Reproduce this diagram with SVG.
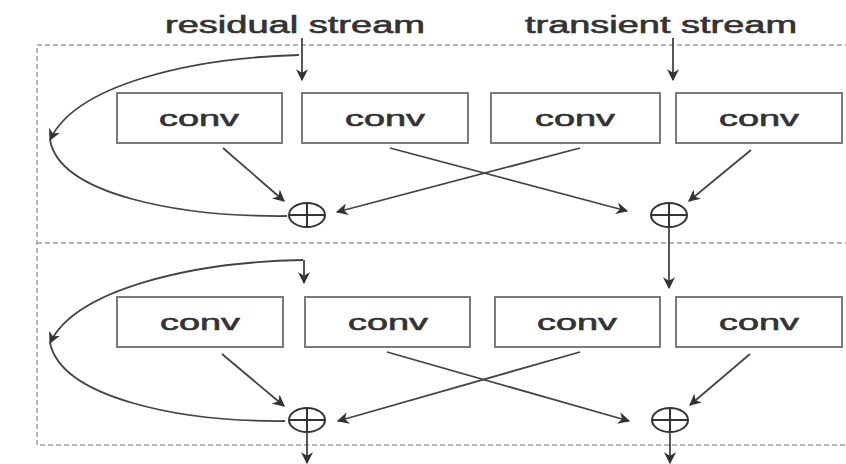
<svg xmlns="http://www.w3.org/2000/svg" width="846" height="464" viewBox="0 0 846 464">
<defs>
<marker id="ah" viewBox="0 0 10 10" refX="9" refY="5" markerWidth="12" markerHeight="12" orient="auto" markerUnits="userSpaceOnUse">
<path d="M0,0 L10,5 L0,10 L3,5 Z" fill="#333"/>
</marker>
<style>
.box{fill:#fff;stroke:#7a7a7a;stroke-width:2}
.lbl{font-family:"Liberation Sans",Arial,sans-serif;fill:#333;stroke:#333;stroke-width:0.6}
.conv{font-size:22px}
.title{font-size:23px}
.ln{fill:none;stroke:#444;stroke-width:1.8}
.dash{fill:none;stroke:#a0a0a0;stroke-width:1.5;stroke-dasharray:5,3}
.plus{fill:none;stroke:#333;stroke-width:2}
</style>
</defs>
<rect width="846" height="464" fill="#fff"/>
<g id="frame">
<path class="dash" d="M850,45 H37 V445 H850"/>
<path class="dash" d="M37,243 H850"/>
</g>
<g id="labels">
<text class="lbl title" x="295" y="33" text-anchor="middle" textLength="260" lengthAdjust="spacingAndGlyphs">residual stream</text>
<text class="lbl title" x="661" y="33" text-anchor="middle" textLength="272" lengthAdjust="spacingAndGlyphs">transient stream</text>
</g>
<g id="conv-t1"><rect class="box" x="117" y="93" width="165" height="50"/><text class="lbl conv" x="199" y="126" text-anchor="middle" textLength="80" lengthAdjust="spacingAndGlyphs">conv</text></g>
<g id="conv-t2"><rect class="box" x="302" y="93" width="166" height="50"/><text class="lbl conv" x="385" y="126" text-anchor="middle" textLength="80" lengthAdjust="spacingAndGlyphs">conv</text></g>
<g id="conv-t3"><rect class="box" x="491" y="93" width="169" height="50"/><text class="lbl conv" x="575" y="126" text-anchor="middle" textLength="80" lengthAdjust="spacingAndGlyphs">conv</text></g>
<g id="conv-t4"><rect class="box" x="676" y="93" width="166" height="50"/><text class="lbl conv" x="759" y="126" text-anchor="middle" textLength="80" lengthAdjust="spacingAndGlyphs">conv</text></g>
<g id="conv-b1"><rect class="box" x="117" y="297" width="166" height="50"/><text class="lbl conv" x="200" y="330" text-anchor="middle" textLength="80" lengthAdjust="spacingAndGlyphs">conv</text></g>
<g id="conv-b2"><rect class="box" x="305" y="297" width="165" height="50"/><text class="lbl conv" x="388" y="330" text-anchor="middle" textLength="80" lengthAdjust="spacingAndGlyphs">conv</text></g>
<g id="conv-b3"><rect class="box" x="495" y="297" width="165" height="50"/><text class="lbl conv" x="577" y="330" text-anchor="middle" textLength="80" lengthAdjust="spacingAndGlyphs">conv</text></g>
<g id="conv-b4"><rect class="box" x="676" y="297" width="166" height="50"/><text class="lbl conv" x="759" y="330" text-anchor="middle" textLength="80" lengthAdjust="spacingAndGlyphs">conv</text></g>
<g id="add-t1"><ellipse class="plus" cx="307" cy="215" rx="18" ry="12"/><path class="plus" d="M289,215 H325 M307,203 V227"/></g>
<g id="add-t2"><ellipse class="plus" cx="669" cy="215" rx="18" ry="12"/><path class="plus" d="M651,215 H687 M669,203 V227"/></g>
<g id="add-b1"><ellipse class="plus" cx="307" cy="420" rx="18" ry="12"/><path class="plus" d="M289,420 H325 M307,408 V432"/></g>
<g id="add-b2"><ellipse class="plus" cx="670" cy="420" rx="18" ry="12"/><path class="plus" d="M652,420 H688 M670,408 V432"/></g>
<g id="connectors">
<path class="ln" d="M302,38 V80" marker-end="url(#ah)"/>
<path class="ln" d="M673,38 V80" marker-end="url(#ah)"/>
<path class="ln" d="M299,55 C190,58 75,85 50,140" marker-end="url(#ah)"/>
<path class="ln" d="M50,140 C60,195 180,217 287,216"/>
<path class="ln" d="M223,148 L284,201" marker-end="url(#ah)"/>
<path class="ln" d="M390,148 L627,211" marker-end="url(#ah)"/>
<path class="ln" d="M580,148 L337,212" marker-end="url(#ah)"/>
<path class="ln" d="M751,150 L689,201" marker-end="url(#ah)"/>
<path class="ln" d="M669,227 V288" marker-end="url(#ah)"/>
<path class="ln" d="M304,260 V283" marker-end="url(#ah)"/>
<path class="ln" d="M303,260 C190,262 75,290 50,343" marker-end="url(#ah)"/>
<path class="ln" d="M50,343 C62,398 180,422 285,421"/>
<path class="ln" d="M222,354 L284,406" marker-end="url(#ah)"/>
<path class="ln" d="M387,352 L629,421" marker-end="url(#ah)"/>
<path class="ln" d="M580,352 L338,421" marker-end="url(#ah)"/>
<path class="ln" d="M750,354 L690,405" marker-end="url(#ah)"/>
<path class="ln" d="M307,432 V463" marker-end="url(#ah)"/>
<path class="ln" d="M670,432 V463" marker-end="url(#ah)"/>
</g>
</svg>
